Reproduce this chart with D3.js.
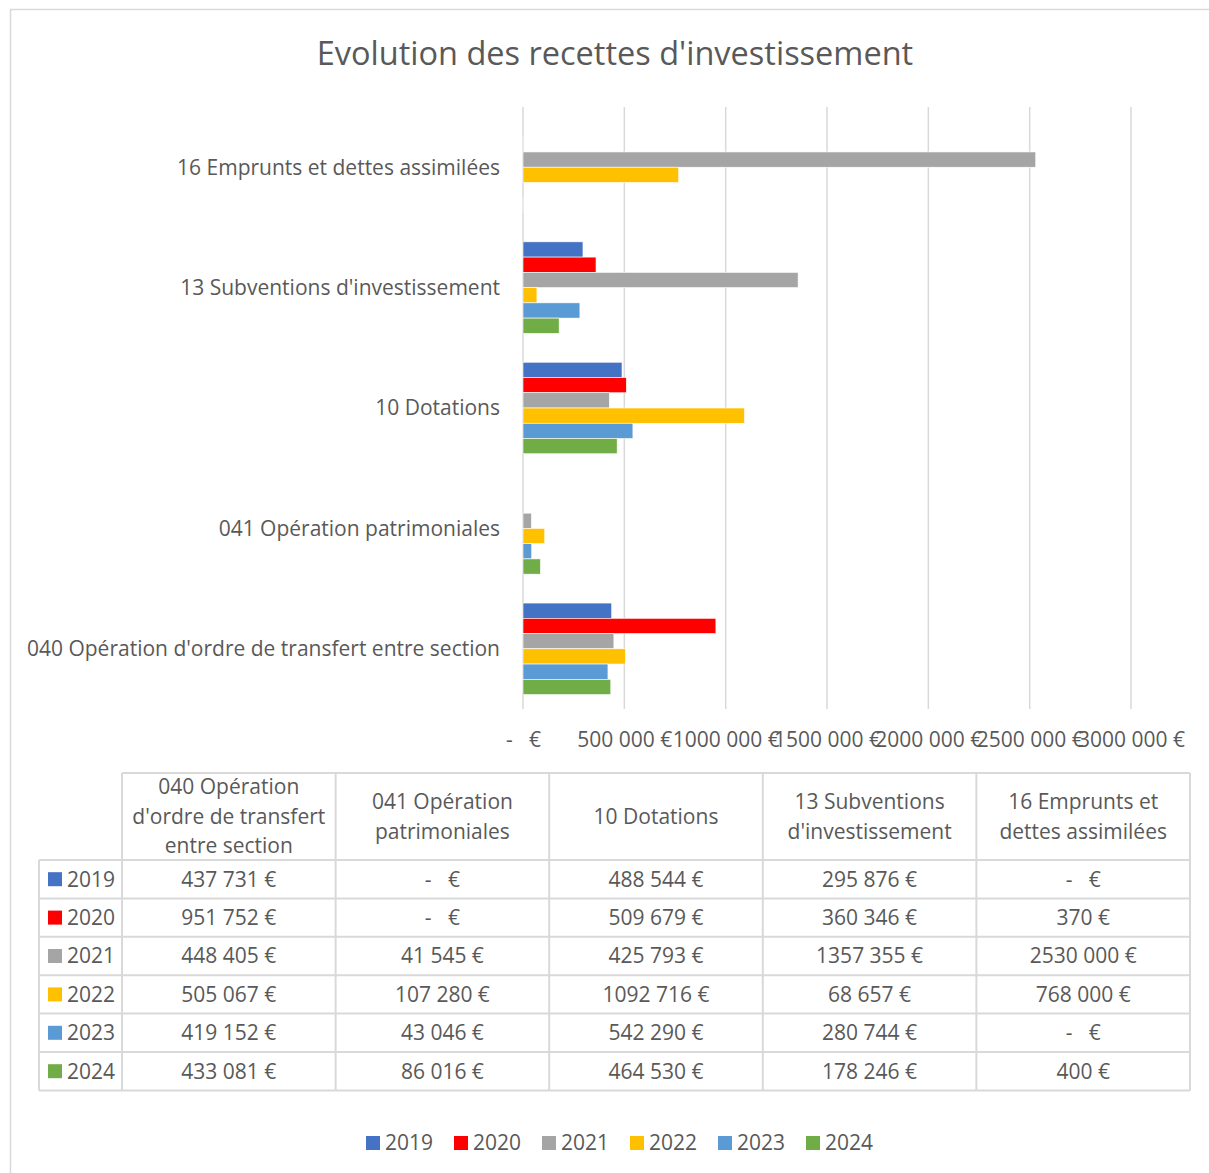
<!DOCTYPE html>
<html>
<head>
<meta charset="utf-8">
<title>Evolution des recettes d'investissement</title>
<script src="https://d3js.org/d3.v7.min.js"></script>
<style>
  body { margin: 0; background: #fff; }
  text { font-family: "Open Sans", Lato, sans-serif; fill: #595959; }
</style>
</head>
<body>
<div id="chart"></div>
<script>
const categories = ["040 Opération d'ordre de transfert entre section", "041 Opération patrimoniales",
                    "10 Dotations", "13 Subventions d'investissement", "16 Emprunts et dettes assimilées"];
const headerLines = [["040 Opération", "d'ordre de transfert", "entre section"],
                     ["041 Opération", "patrimoniales"],
                     ["10 Dotations"],
                     ["13 Subventions", "d'investissement"],
                     ["16 Emprunts et", "dettes assimilées"]];
const years = ["2019", "2020", "2021", "2022", "2023", "2024"];
const colors = ["#4472C4", "#FF0000", "#A5A5A5", "#FFC000", "#5B9BD5", "#70AD47"];
const v2019 = [437731, 0, 488544, 295876, 0];
const v2020 = [951752, 0, 509679, 360346, 370];
const v2021 = [448405, 41545, 425793, 1357355, 2530000];
const v2022 = [505067, 107280, 1092716, 68657, 768000];
const v2023 = [419152, 43046, 542290, 280744, 0];
const v2024 = [433081, 86016, 464530, 178246, 400];
const series = [v2019, v2020, v2021, v2022, v2023, v2024];
const xTicks = [0, 500000, 1000000, 1500000, 2000000, 2500000, 3000000];

// format "1357 355 €" comme dans Excel
function euro(v) {
  if (v === 0) return "-   €";
  if (v < 1000) return v + " €";
  return Math.floor(v / 1000) + " " + String(v % 1000).padStart(3, "0") + " €";
}

const W = 1209, H = 1173;
const FS = "21px";
const svg = d3.select("#chart").append("svg")
  .attr("width", W).attr("height", H);

svg.append("rect").attr("width", W).attr("height", H).attr("fill", "#fff");
// bord de la zone graphique
svg.append("path")
  .attr("d", "M10.5," + H + "V9.5H" + W)
  .attr("fill", "none").attr("stroke", "#d9d9d9").attr("stroke-width", 1.5);

// titre
svg.append("text")
  .attr("x", 615).attr("y", 65)
  .attr("text-anchor", "middle")
  .attr("font-size", "32.5px")
  .text("Evolution des recettes d'investissement");

// zone des barres
const plot = {left: 523, right: 1131, top: 107, bottom: 709};
const x = d3.scaleLinear().domain([0, 3000000]).range([plot.left, plot.right]);
const y = d3.scaleBand().domain(categories.slice().reverse())
  .range([plot.top, plot.bottom]).paddingInner(0.24).paddingOuter(0.12);
const yInner = d3.scaleBand().domain(years).range([0, y.bandwidth()]);

// grille
svg.append("g").selectAll("line")
  .data(xTicks).join("line")
  .attr("x1", d => x(d)).attr("x2", d => x(d))
  .attr("y1", plot.top).attr("y2", plot.bottom)
  .attr("stroke", "#d9d9d9").attr("stroke-width", 1.5);

// barres
const groups = svg.append("g").selectAll("g")
  .data(series).join("g")
  .attr("fill", (d, i) => colors[i]);
groups.each(function(vals, si) {
  d3.select(this).selectAll("rect")
    .data(vals.map((v, ci) => ({v: v, c: categories[ci]})))
    .join("rect")
    .attr("x", x(0))
    .attr("y", d => y(d.c) + yInner(years[si]))
    .attr("width", d => x(d.v) - x(0))
    .attr("height", yInner.bandwidth())
    .attr("stroke", "#fff").attr("stroke-width", 0.6);
});

// libellés des catégories
svg.append("g").selectAll("text")
  .data(categories).join("text")
  .attr("x", 500)
  .attr("y", d => y(d) + y.bandwidth() / 2)
  .attr("dy", "0.35em")
  .attr("text-anchor", "end")
  .attr("font-size", FS)
  .text(d => d);

// axe horizontal
const xAxis = d3.axisBottom(x).tickValues(xTicks).tickSize(0).tickPadding(0)
  .tickFormat(d => euro(d));
const ax = svg.append("g").attr("transform", "translate(0," + 740 + ")").call(xAxis);
ax.select(".domain").remove();
ax.selectAll("text").attr("font-size", FS).attr("fill", "#595959")
  .style("font-family", "'Open Sans', Lato, sans-serif").attr("dy", "0.35em")
  .attr("xml:space", "preserve");

// tableau de données
const tab = {left: 39, first: 122, colW: 213.6, top: 773, headH: 87, rowH: 38.4};
const tg = svg.append("g");
const line = (x1, y1, x2, y2) => tg.append("line")
  .attr("x1", x1).attr("y1", y1).attr("x2", x2).attr("y2", y2)
  .attr("stroke", "#d9d9d9").attr("stroke-width", 2);
const tabRight = tab.first + tab.colW * categories.length;
const bodyTop = tab.top + tab.headH;
const tabBottom = bodyTop + tab.rowH * years.length;
// lignes horizontales
line(tab.first, tab.top, tabRight, tab.top);
for (let r = 0; r <= years.length; r++) line(tab.left, bodyTop + r * tab.rowH, tabRight, bodyTop + r * tab.rowH);
// lignes verticales
line(tab.left, bodyTop, tab.left, tabBottom);
for (let c = 0; c <= categories.length; c++) {
  const xx = tab.first + c * tab.colW;
  line(xx, tab.top, xx, tabBottom);
}
// en-têtes
headerLines.forEach((lines, c) => {
  const cx = tab.first + (c + 0.5) * tab.colW;
  const cy = tab.top + tab.headH / 2;
  lines.forEach((t, k) => {
    tg.append("text")
      .attr("x", cx).attr("y", cy + (k - (lines.length - 1) / 2) * 29.5)
      .attr("dy", "0.35em").attr("text-anchor", "middle")
      .attr("font-size", FS).text(t);
  });
});
// lignes de valeurs
years.forEach((yr, r) => {
  const cy = bodyTop + (r + 0.5) * tab.rowH;
  tg.append("rect").attr("x", 48).attr("y", cy - 7).attr("width", 14).attr("height", 14)
    .attr("fill", colors[r]);
  tg.append("text").attr("x", 67).attr("y", cy).attr("dy", "0.35em")
    .attr("font-size", FS).text(yr);
  series[r].forEach((v, c) => {
    tg.append("text")
      .attr("x", tab.first + (c + 0.5) * tab.colW).attr("y", cy)
      .attr("dy", "0.35em").attr("text-anchor", "middle")
      .attr("xml:space", "preserve")
      .attr("font-size", FS).text(euro(v));
  });
});

// légende
const leg = svg.append("g").selectAll("g")
  .data(years).join("g")
  .attr("transform", (d, i) => "translate(" + (366 + i * 88) + ",1143)");
leg.append("rect").attr("y", -7).attr("width", 14).attr("height", 14)
  .attr("fill", (d, i) => colors[i]);
leg.append("text").attr("x", 19).attr("dy", "0.35em")
  .attr("font-size", FS).text(d => d);
</script>
</body>
</html>
